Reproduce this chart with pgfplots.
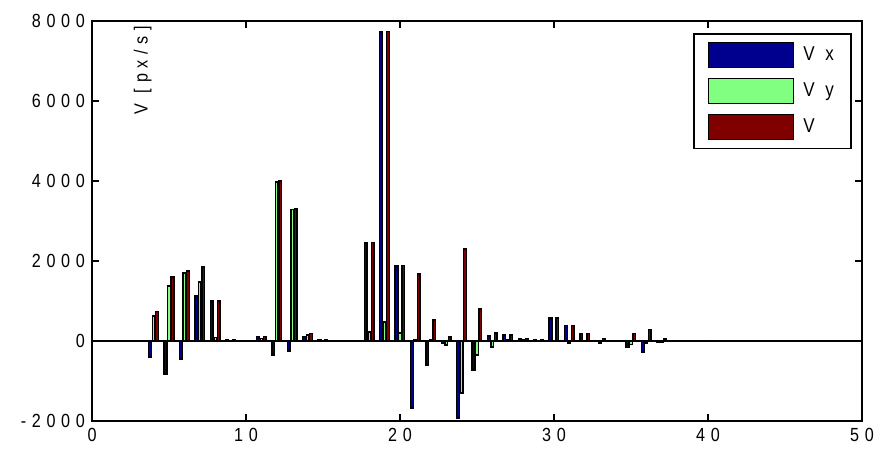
\documentclass[border=0pt]{standalone}
\usepackage{fontspec}
\setmainfont[FakeStretch=0.85,LetterSpace=30]{Liberation Sans}
\usepackage{pgfplots}
\pgfplotsset{compat=1.18}
\usepackage{pgfplotstable}

\definecolor{vxcol}{rgb}{0,0,0.56}
\definecolor{vycol}{rgb}{0.5,1,0.5}
\definecolor{vcol}{rgb}{0.5,0,0}

% velocity per frame
\pgfplotstableread{
x vx vy v
1 0 0 0
2 5 0 5
3 10 5 10
4 -400 620 730
5 -825 1375 1600
6 -450 1700 1750
7 1125 1475 1850
8 1000 80 1000
9 20 10 25
10 15 0 15
11 100 60 110
12 -350 3975 4000
13 -250 3290 3300
14 100 150 190
15 20 10 25
16 10 10 15
17 10 0 10
18 2450 225 2460
19 7725 475 7740
20 1870 200 1880
21 -1675 40 1675
22 -600 20 520
23 -60 -100 100
24 -1925 -1300 2300
25 -725 -350 800
26 120 -150 195
27 150 20 150
28 50 20 55
29 20 10 25
30 575 10 575
31 380 -50 385
32 190 10 190
33 -20 -50 55
34 10 5 12
35 -170 -90 190
36 -280 -50 285
37 -40 -30 50
38 10 5 12
39 0 0 0
40 0 0 0
41 0 0 0
42 0 0 0
43 0 0 0
44 0 0 0
45 0 0 0
46 0 0 0
47 0 0 0
48 0 0 0
49 0 0 0
50 0 0 0
}\speed

\begin{document}
\begin{tikzpicture}
\begin{axis}[
  at={(0,0)}, anchor=south west,
  scale only axis, width=385pt, height=200pt,
  xmin=0, xmax=50, ymin=-2000, ymax=8000,
  xtick={0,10,...,50}, ytick={-2000,0,...,8000},
  scaled y ticks=false,
  /pgf/number format/assume math mode=true,
  /pgf/number format/1000 sep={},
  tick align=inside, major tick length=3.5pt,
  tick style={black, line width=0.6pt},
  axis line style={line width=0.8pt},
  ticklabel style={font=\fontsize{9.5}{9.5}\selectfont},
  bar width=0.18,
  every axis plot/.append style={draw=black, line width=0.7pt},
  legend style={at={(0.781,0.97)}, anchor=north west, draw=black,
    line width=0.8pt, inner xsep=7pt, inner ysep=4pt, row sep=5pt,
    font=\fontsize{10}{10}\selectfont, nodes={inner xsep=1.5pt},
    /tikz/every odd column/.append style={column sep=3pt}},
  legend cell align=left,
  legend image code/.code={\draw[#1, draw=black, line width=0.6pt] (0pt,-6.25pt) rectangle (42.5pt,6.25pt);},
]
\addplot[black, line width=0.6pt, forget plot] coordinates {(0,0) (50,0)};
\addplot[ybar, bar shift=-0.222, fill=vxcol] table[x=x, y=vx] {\speed};
\addplot[ybar, bar shift=0, fill=vycol] table[x=x, y=vy] {\speed};
\addplot[ybar, bar shift=0.222, fill=vcol] table[x=x, y=v] {\speed};
\legend{V x, V y, V}
\node[rotate=90, font=\fontsize{9.5}{9.5}\selectfont] at (axis cs:3.3,6775) {V [px/s]};
\end{axis}
\pgfresetboundingbox
\path[use as bounding box] (-46pt,-14.5pt) rectangle (394pt,210.5pt);
\end{tikzpicture}
\end{document}
